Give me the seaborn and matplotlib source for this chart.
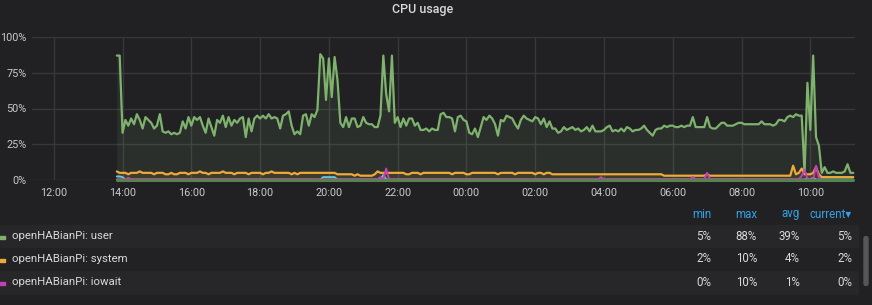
import numpy as np
import pandas as pd
import matplotlib
matplotlib.use("Agg")
import matplotlib.pyplot as plt
import seaborn as sns
from matplotlib.patches import Rectangle, FancyBboxPatch

# ---------------- data ----------------
title = "CPU usage"
start_time = "2019-12-01 13:50"
step = "5min"
view_start = "2019-12-01 11:22"
view_end = "2019-12-02 11:18"
tick_start = "2019-12-01 12:00"
tick_labels = ["12:00", "14:00", "16:00", "18:00", "20:00", "22:00",
               "00:00", "02:00", "04:00", "06:00", "08:00", "10:00"]
y_ticks = [0, 25, 50, 75, 100]
y_labels = ["0%", "25%", "50%", "75%", "100%"]

user = [
    87, 87, 33, 42, 38, 43, 39, 46, 42, 36, 44, 42,
    40, 36, 38, 46, 34, 33, 34, 32, 33, 32, 33, 41,
    36, 44, 38, 44, 42, 44, 38, 33, 43, 37, 31, 42,
    40, 45, 37, 44, 38, 42, 40, 43, 44, 30, 43, 34,
    43, 45, 43, 45, 43, 46, 43, 44, 43, 36, 45, 46,
    48, 38, 32, 34, 32, 45, 46, 38, 46, 44, 49, 88,
    85, 56, 85, 58, 86, 70, 40, 37, 44, 37, 43, 43,
    37, 38, 44, 40, 39, 39, 37, 37, 45, 87, 60, 48,
    87, 40, 44, 37, 43, 38, 43, 43, 38, 40, 35, 35,
    36, 34, 36, 35, 35, 46, 47, 44, 44, 43, 34, 44,
    45, 42, 41, 33, 32, 36, 30, 37, 44, 42, 45, 43,
    39, 31, 42, 41, 45, 44, 43, 39, 36, 42, 45, 43,
    42, 41, 44, 43, 39, 43, 37, 41, 36, 36, 33, 34,
    37, 35, 36, 37, 35, 36, 34, 35, 37, 34, 38, 34,
    34, 34, 35, 37, 38, 34, 35, 34, 36, 34, 37, 36,
    34, 35, 35, 36, 38, 35, 33, 31, 35, 36, 36, 38,
    37, 38, 38, 37, 37, 38, 37, 38, 38, 44, 37, 37,
    37, 37, 44, 37, 36, 36, 38, 40, 40, 38, 38, 38,
    39, 40, 40, 39, 39, 39, 39, 39, 39, 41, 39, 39,
    39, 38, 39, 42, 42, 41, 44, 45, 44, 46, 45, 45,
    5, 68, 35, 87, 30, 24, 5, 9, 5, 5, 6, 5,
    5, 5, 6, 11, 5, 5,
]
system = [
    6, 5, 5, 5, 4, 5, 5, 5, 6, 5, 5, 5,
    5, 4, 5, 5, 5, 4, 4, 5, 4, 4, 5, 5,
    5, 4, 5, 5, 5, 6, 5, 5, 4, 5, 5, 5,
    5, 6, 5, 5, 5, 4, 5, 5, 5, 5, 4, 5,
    5, 5, 5, 4, 5, 5, 6, 5, 5, 5, 5, 5,
    5, 4, 5, 4, 5, 5, 5, 5, 5, 5, 5, 5,
    5, 5, 5, 5, 5, 4, 4, 4, 4, 4, 4, 3,
    4, 3, 3, 3, 3, 3, 4, 6, 5, 5, 5, 5,
    5, 5, 5, 5, 5, 4, 4, 5, 5, 5, 4, 5,
    5, 5, 5, 5, 5, 5, 5, 5, 5, 4, 5, 5,
    5, 5, 4, 4, 5, 5, 5, 5, 5, 5, 5, 5,
    5, 4, 5, 5, 5, 5, 5, 4, 5, 5, 5, 5,
    5, 5, 4, 5, 5, 4, 5, 5, 4, 4, 4, 4,
    4, 4, 4, 4, 4, 4, 4, 4, 4, 4, 4, 4,
    4, 4, 4, 4, 4, 4, 4, 4, 4, 4, 4, 4,
    4, 4, 4, 4, 4, 4, 4, 4, 4, 4, 4, 3,
    3, 3, 3, 3, 3, 3, 3, 3, 3, 3, 3, 3,
    3, 3, 4, 3, 3, 3, 3, 3, 3, 3, 3, 3,
    3, 3, 3, 3, 3, 3, 3, 3, 3, 3, 3, 3,
    3, 3, 3, 3, 3, 3, 3, 3, 10, 4, 5, 8,
    4, 4, 4, 5, 9, 4, 2, 2, 2, 2, 2, 2,
    2, 2, 2, 2, 2, 2,
]
iowait = [0.5] * 258
for idx, val in [(4, 1.5), (92, 2), (94, 8), (169, 2), (201, 2), (206, 5),
                 (239, 3), (240, 7), (241, 1), (244, 10), (245, 2)]:
    iowait[idx] = val
for idx in range(246, 258):
    iowait[idx] = 0
softirq = [0.3] * 258
for idx, val in [(0, 2.5), (1, 2.5), (2, 2.0), (72, 2), (73, 2), (74, 2),
                 (75, 2), (76, 2), (93, 3.5), (241, 1), (243, 1.5)]:
    softirq[idx] = val
nice = [0] * 258

legend_names = ["openHABianPi: user", "openHABianPi: system", "openHABianPi: iowait"]
legend_min = ["5%", "2%", "0%"]
legend_max = ["88%", "10%", "10%"]
legend_avg = ["39%", "4%", "1%"]
legend_cur = ["5%", "2%", "0%"]
legend_headers = ["min", "max", "avg", "current\u25be"]

# ---------------- style ----------------
W, H = 872, 305
BG = "#212124"
GRID = "#38383b"
TXT = "#c8c9ca"
C_USER = "#7EB26D"
C_SYS = "#EDA93A"
C_IO = "#C540B3"
C_SOFT = "#5FC8DC"
C_NICE = "#56834A"

sns.set_theme(style="dark")
plt.rcParams["font.family"] = ["Roboto", "DejaVu Sans"]

fig = plt.figure(figsize=(W / 100, H / 100), dpi=100, facecolor=BG)


def fx(px):
    return px / W


def fy(py):
    return 1 - py / H


ax = fig.add_axes([fx(32), fy(180), fx(855) - fx(32), fy(37) - fy(180)])
ax.set_facecolor(BG)

times = pd.date_range(start_time, periods=len(user), freq=step)
df = pd.DataFrame({"time": times, "user": user, "system": system,
                   "iowait": iowait, "softirq": softirq, "nice": nice})

ax.fill_between(df["time"], df["user"], 0, color=C_USER, alpha=0.10, lw=0)
for col, c in [("system", C_SYS), ("softirq", C_SOFT), ("iowait", C_IO)]:
    ax.fill_between(df["time"], df[col], 0, color=c, alpha=0.10, lw=0)

sns.lineplot(data=df, x="time", y="user", ax=ax, color=C_USER, lw=1.6, legend=False)
sns.lineplot(data=df, x="time", y="system", ax=ax, color=C_SYS, lw=1.6, legend=False)
sns.lineplot(data=df, x="time", y="softirq", ax=ax, color=C_SOFT, lw=1.4, legend=False)
sns.lineplot(data=df, x="time", y="iowait", ax=ax, color=C_IO, lw=1.4, legend=False)
ln = sns.lineplot(data=df, x="time", y="nice", ax=ax, color=C_NICE, lw=2.2, legend=False)
ln.lines[-1].set_clip_on(False)

ax.set_xlim(pd.Timestamp(view_start), pd.Timestamp(view_end))
ax.set_ylim(0, 100)
ticks = pd.date_range(tick_start, periods=len(tick_labels), freq="2h")
ax.set_xticks(ticks)
ax.set_xticklabels(tick_labels)
ax.set_yticks(y_ticks)
ax.set_yticklabels(y_labels)
ax.set_xlabel("")
ax.set_ylabel("")
ax.grid(True, color=GRID, lw=1)
ax.tick_params(axis="both", length=0, colors=TXT, labelsize=7.8)
ax.tick_params(axis="y", pad=4)
ax.tick_params(axis="x", pad=6)
for s in ax.spines.values():
    s.set_visible(False)

fig.text(fx(423), fy(9), title, ha="center", va="center", fontsize=9,
         color="#d8d9da", fontweight="medium")

# ---------------- legend table ----------------
row_y = [236, 259, 282]
row_bg = ["#27272a", "#222225", "#27272a"]
for i, y in enumerate(row_y):
    fig.patches.append(Rectangle((0, fy(y + 11.5)), fx(858), 23 / H,
                                 transform=fig.transFigure, color=row_bg[i], zorder=0))

header_x = [711, 757, 800, 852]
for x, t in zip(header_x, legend_headers):
    fig.text(fx(x), fy(214), t, ha="right", va="center", fontsize=8.3, color="#33a2e5")

colors = [C_USER, C_SYS, C_IO]
for i, y in enumerate(row_y):
    fig.patches.append(Rectangle((0, fy(y + 3)), fx(5), 3.5 / H,
                                 transform=fig.transFigure, color=colors[i], zorder=2))
    fig.text(fx(12), fy(y), legend_names[i], ha="left", va="center", fontsize=8.2, color="#d8d9da")
    for x, vals in zip(header_x, [legend_min, legend_max, legend_avg, legend_cur]):
        fig.text(fx(x), fy(y), vals[i], ha="right", va="center", fontsize=8.3, color="#d8d9da")

fig.patches.append(FancyBboxPatch((fx(864), fy(285)), fx(4), 48 / H,
                                  boxstyle="round,pad=0,rounding_size=0.004",
                                  transform=fig.transFigure, color="#55555a", zorder=2))

fig.savefig("out.png", dpi=100, facecolor=BG)
